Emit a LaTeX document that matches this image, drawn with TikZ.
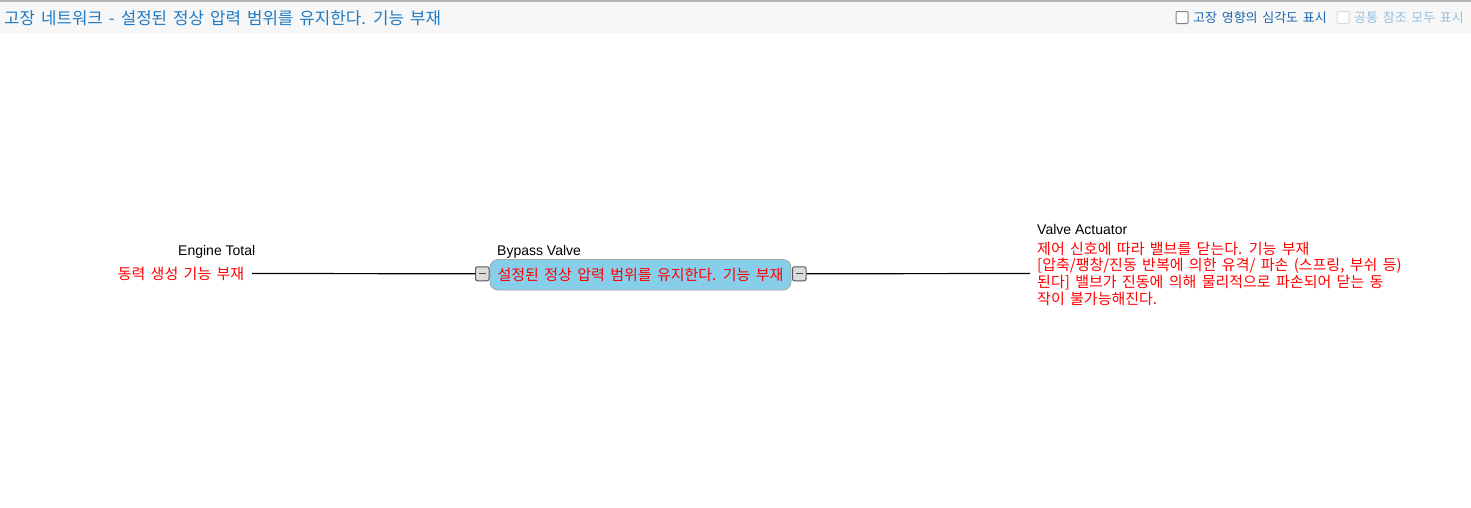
\documentclass[tikz,border=0pt]{standalone}
\usepackage{fontspec}
\setmainfont{Liberation Sans}
\newfontfamily\kr[WordSpace=1.6]{Noto Sans CJK KR}
\definecolor{hdrbg}{HTML}{F7F7F7}
\definecolor{hdrline}{HTML}{B4B4B4}
\definecolor{titleblue}{HTML}{1F7BC6}
\definecolor{cbblue}{HTML}{1A66B0}
\definecolor{cblight}{HTML}{92C2E2}
\definecolor{nodeblue}{HTML}{87CEEB}
\definecolor{boxgray}{HTML}{DCDCDC}
\definecolor{redtxt}{HTML}{FF0000}
\tikzset{
  redkr/.style={text=redtxt, font=\kr\fontsize{15}{16.7}\selectfont, inner sep=0pt},
  blacklbl/.style={text=black, font=\fontsize{14}{16}\selectfont, inner sep=0pt, anchor=base west},
  minusbox/.style={draw=black!65, fill=boxgray, line width=1pt, rounded corners=2pt,
    minimum width=13.5pt, minimum height=14pt, inner sep=0pt,
    path picture={\draw[black!70, line width=1.2pt]
      ([xshift=-3.5pt]path picture bounding box.center) -- ([xshift=3.5pt]path picture bounding box.center);}},
  funcbox/.style={draw=black!35, fill=nodeblue, rounded corners=8pt, line width=0.8pt,
    minimum width=301pt, minimum height=30.5pt, inner sep=0pt},
  checkbox/.style={fill=white, line width=1pt, minimum size=12pt, inner sep=0pt, rounded corners=1pt},
  link/.style={draw=black, line width=1.2pt}
}
\begin{document}
\begin{tikzpicture}[x=1pt,y=-1pt]
\useasboundingbox (0,0) rectangle (1471,507);
\fill[white] (0,0) rectangle (1471,507);
\fill[hdrbg] (0,1.5) rectangle (1471,33);
\draw[hdrline, line width=1.5pt] (0,0.75) -- (1471,0.75);
\node[anchor=base west, inner sep=0pt, text=titleblue, font=\kr\fontsize{16.8}{19}\selectfont] (title) at (4,24) {고장 네트워크 - 설정된 정상 압력 범위를 유지한다. 기능 부재};
\node[checkbox, draw=black!50] (cb1) at (1182,17.5) {};
\node[anchor=base west, inner sep=0pt, text=cbblue, font=\kr\fontsize{13}{15}\selectfont] (cb1t) at (1193,22.5) {고장 영향의 심각도 표시};
\node[checkbox, draw=black!15] (cb2) at (1343,17.5) {};
\node[anchor=base west, inner sep=0pt, text=cblight, font=\kr\fontsize{13}{15}\selectfont] (cb2t) at (1354,22.5) {공통 참조 모두 표시};

% function nodes
\node[funcbox] (bv) at (640.5,274.75) {};
\node[redkr] (bvt) at (bv.center) {설정된 정상 압력 범위를 유지한다. 기능 부재};
\node[blacklbl] (bvl) at (497,255) {Bypass Valve};
\node[minusbox] (m1) at (482.25,273.75) {};
\node[minusbox] (m2) at (799.25,273.75) {};

\node[redkr, anchor=east] (ef) at (244.5,273.5) {동력 생성 기능 부재};
\node[blacklbl] (efl) at (178,255) {Engine Total};

\node[redkr, anchor=west, align=left] (va) at (1037,273.5) {제어 신호에 따라 밸브를 닫는다. 기능 부재\\{[}압축/팽창/진동 반복에 의한 유격/ 파손 (스프링, 부쉬 등)\\된다{]} 밸브가 진동에 의해 물리적으로 파손되어 닫는 동\\작이 불가능해진다.};
\node[blacklbl] (val) at (1037,234) {Valve Actuator};

\draw[link] ([xshift=7.5pt]ef.east) -- (m1.west);
\draw[link] (m2.east) -- ([xshift=-7pt]va.west);
\end{tikzpicture}
\end{document}
